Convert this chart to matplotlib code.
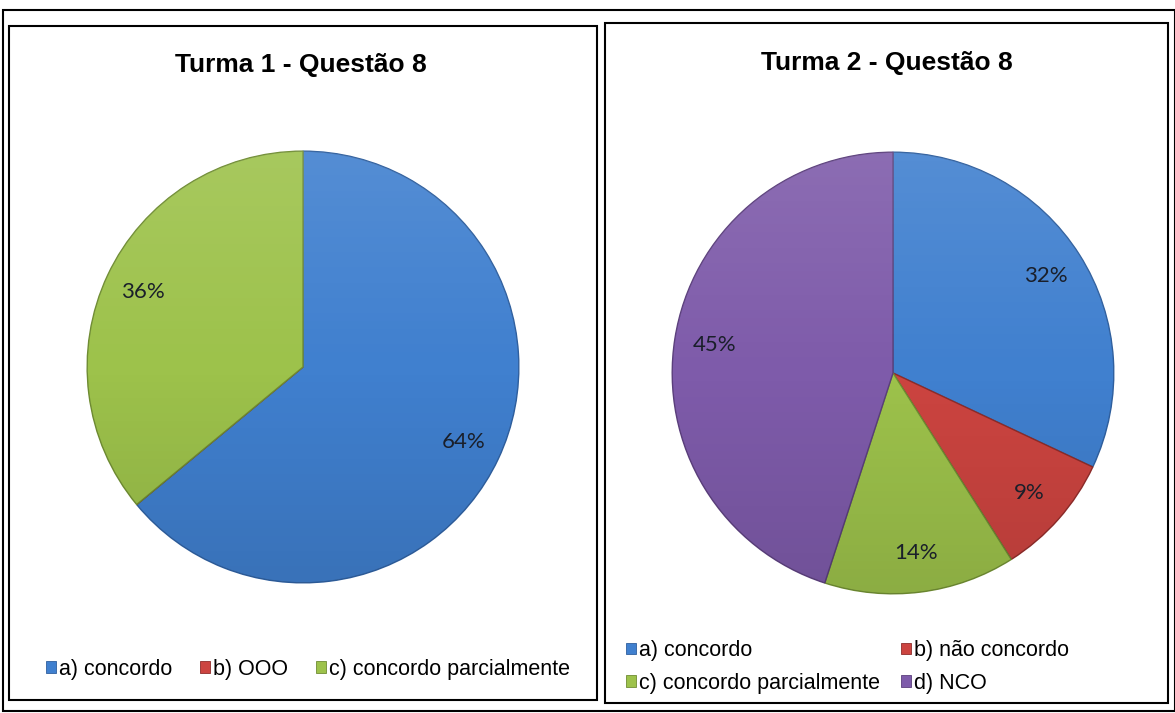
import matplotlib
matplotlib.use("Agg")
import matplotlib.pyplot as plt
import numpy as np
from matplotlib.patches import Rectangle, Patch, Circle

# Dados
titles = ["Turma 1 - Questão 8", "Turma 2 - Questão 8"]
labels_t1 = ["a) concordo", "b) OOO", "c) concordo parcialmente"]
values_t1 = [64, 0, 36]
labels_t2 = ["a) concordo", "b) não concordo", "c) concordo parcialmente", "d) NCO"]
values_t2 = [32, 9, 14, 45]

# Aparência
COLORS = ["#4080CF", "#CC4440", "#9DC24B", "#7E5BAA"]
EDGES = ["#2F5F9E", "#8E2C2A", "#6F8C33", "#5B3F7C"]
W, H = 1175, 713


def fx(x):
    return x / W


def fy(y):
    return 1 - y / H


def pct(v):
    return "" if v < 0.5 else f"{v:.0f}%"


def draw_pie(fig, cx, cy, r, values, ncolors):
    ax = fig.add_axes([fx(cx - r), fy(cy + r), 2 * r / W, 2 * r / H])
    wedges, _, autotexts = ax.pie(
        values,
        colors=COLORS[:ncolors],
        startangle=90,
        counterclock=False,
        autopct=pct,
        pctdistance=0.82,
        wedgeprops=dict(linewidth=1.0),
        textprops=dict(fontsize=16, family="Lato", color="#1a1f2a"),
    )
    for w, ec in zip(wedges, EDGES):
        w.set_edgecolor(ec)
        w.set_zorder(1)

    # leve sombreado vertical (claro em cima, escuro embaixo)
    grad = np.zeros((200, 2, 4))
    t = np.linspace(0, 1, 200)[:, None]
    grad[..., :3] = np.where(t[..., None] < 0.5, 1.0, 0.0)
    grad[..., 3] = np.abs(t - 0.5) * 0.22
    img = ax.imshow(grad, extent=[-1, 1, -1, 1], origin="upper",
                    aspect="auto", zorder=2, interpolation="bilinear")
    img.set_clip_path(Circle((0, 0), 1.0, transform=ax.transData))
    for txt in autotexts:
        txt.set_zorder(5)

    ax.set_xlim(-1.01, 1.01)
    ax.set_ylim(-1.01, 1.01)
    ax.set_aspect("equal")
    ax.axis("off")
    return ax


fig = plt.figure(figsize=(W / 100, H / 100), dpi=100)

# Molduras
fig.add_artist(Rectangle((fx(3), fy(711)), fx(1172), fy(10) - fy(711),
                         transform=fig.transFigure, fill=False, lw=1.5, ec="black"))
fig.add_artist(Rectangle((fx(9), fy(700)), fx(588), fy(26) - fy(700),
                         transform=fig.transFigure, fill=False, lw=1.5, ec="black"))
fig.add_artist(Rectangle((fx(605), fy(703)), fx(563), fy(23) - fy(703),
                         transform=fig.transFigure, fill=False, lw=1.5, ec="black"))

draw_pie(fig, 303, 367, 218, values_t1, 3)
draw_pie(fig, 893, 373, 223, values_t2, 4)

fig.text(fx(301), fy(72), titles[0], ha="center", va="baseline",
         fontsize=19, fontweight="bold", family="Liberation Sans")
fig.text(fx(887), fy(70), titles[1], ha="center", va="baseline",
         fontsize=19, fontweight="bold", family="Liberation Sans")

# Legendas
legend_kw = dict(frameon=False, handlelength=0.45, handleheight=0.45,
                 handletextpad=0.15, borderpad=0, borderaxespad=0,
                 prop=dict(family="Liberation Sans", size=15.5))

h1 = [Patch(facecolor=c, edgecolor=e, lw=0.6) for c, e in zip(COLORS[:3], EDGES[:3])]
fig.legend(h1, labels_t1, loc="center left", bbox_to_anchor=(fx(46), fy(669)),
           ncol=3, columnspacing=1.3, **legend_kw)

# ordem por linhas: a, b / c, d
h2 = [Patch(facecolor=c, edgecolor=e, lw=0.6) for c, e in zip(COLORS, EDGES)]
order = [0, 2, 1, 3]
fig.legend([h2[i] for i in order], [labels_t2[i] for i in order],
           loc="center left", bbox_to_anchor=(fx(626), fy(667)),
           ncol=2, columnspacing=1.0, labelspacing=0.55, **legend_kw)

fig.savefig("out.png", dpi=100)
